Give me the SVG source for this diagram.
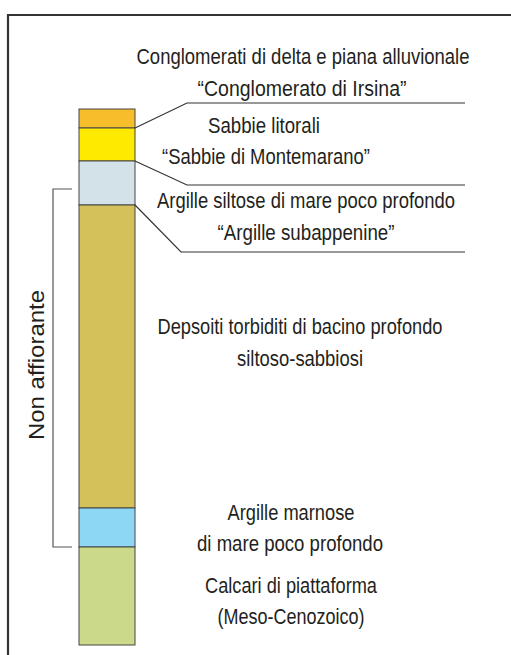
<svg xmlns="http://www.w3.org/2000/svg" width="511" height="655" viewBox="0 0 511 655">
<style>
text{font-family:"Liberation Sans",Arial,sans-serif;font-size:22px;fill:#231f20;text-anchor:middle}
text.s{font-size:20px}
.lay{stroke:#444;stroke-width:1}
.lead{fill:none;stroke:#333;stroke-width:1.2}
.br{fill:none;stroke:#555;stroke-width:1.2}
</style>
<rect width="511" height="655" fill="#fff"/>
<path d="M8,655 V15 H511" fill="none" stroke="#333" stroke-width="2.2"/>
<g id="column">
<rect id="l1" class="lay" x="79" y="109" width="56" height="19" fill="#F5BE2A"/>
<rect id="l2" class="lay" x="79" y="128" width="56" height="33" fill="#FEEA00"/>
<rect id="l3" class="lay" x="79" y="161" width="56" height="44" fill="#D3E2E8"/>
<rect id="l4" class="lay" x="79" y="205" width="56" height="303" fill="#D4C15A"/>
<rect id="l5" class="lay" x="79" y="508" width="56" height="39" fill="#8DD7F5"/>
<rect id="l6" class="lay" x="79" y="547" width="56" height="98" fill="#CBDA8A"/>
</g>
<g id="connectors">
<polyline class="lead" points="135,128 187,103 465,103"/>
<polyline class="lead" points="135,161 187,185 465,185"/>
<polyline class="lead" points="135,205 181,252 465,252"/>
<polyline class="br" points="72,189 53,189 53,547 72,547"/>
</g>
<g id="labels">
<text class="s" x="0" y="0" transform="translate(303,64) scale(1,1.1)" textLength="333" lengthAdjust="spacingAndGlyphs">Conglomerati di delta e piana alluvionale</text>
<text x="302" y="96" textLength="209" lengthAdjust="spacingAndGlyphs">“Conglomerato di Irsina”</text>
<text x="264" y="133" textLength="112" lengthAdjust="spacingAndGlyphs">Sabbie litorali</text>
<text x="266" y="164" textLength="208" lengthAdjust="spacingAndGlyphs">“Sabbie di Montemarano”</text>
<text class="s" x="0" y="0" transform="translate(306,208) scale(1,1.1)" textLength="298" lengthAdjust="spacingAndGlyphs">Argille siltose di mare poco profondo</text>
<text x="306" y="240" textLength="177" lengthAdjust="spacingAndGlyphs">“Argille subappenine”</text>
<text x="300" y="334" textLength="285" lengthAdjust="spacingAndGlyphs">Depsoiti torbiditi di bacino profondo</text>
<text x="300" y="366" textLength="126" lengthAdjust="spacingAndGlyphs">siltoso-sabbiosi</text>
<text x="291" y="520" textLength="127" lengthAdjust="spacingAndGlyphs">Argille marnose</text>
<text x="290" y="551" textLength="186" lengthAdjust="spacingAndGlyphs">di mare poco profondo</text>
<text x="291" y="593" textLength="172" lengthAdjust="spacingAndGlyphs">Calcari di piattaforma</text>
<text x="291" y="624" textLength="147" lengthAdjust="spacingAndGlyphs">(Meso-Cenozoico)</text>
<text x="0" y="0" transform="translate(44,365) rotate(-90)" textLength="150" lengthAdjust="spacingAndGlyphs">Non affiorante</text>
</g>
</svg>
